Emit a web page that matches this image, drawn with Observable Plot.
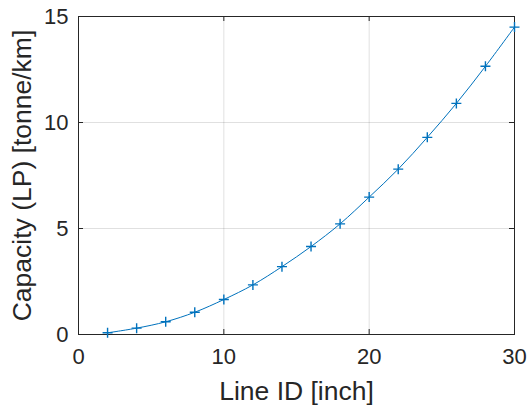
<!DOCTYPE html>
<html>
<head>
<meta charset="utf-8">
<script src="https://cdn.jsdelivr.net/npm/d3@7"></script>
<script src="https://cdn.jsdelivr.net/npm/@observablehq/plot@0.6"></script>
<style>
  html, body { margin: 0; padding: 0; background: #fff; }
</style>
</head>
<body>
<div id="chart"></div>
<script>
const lineId = [2, 4, 6, 8, 10, 12, 14, 16, 18, 20, 22, 24, 26, 28, 30];
const capacity = [0.08, 0.3, 0.6, 1.05, 1.65, 2.34, 3.2, 4.15, 5.22, 6.48, 7.8, 9.3, 10.9, 12.65, 14.5];
const xTicks = [0, 10, 20, 30];
const yTicks = [0, 5, 10, 15];

const data = lineId.map((x, i) => ({x, y: capacity[i]}));

const W = 527, H = 405;
const mL = 78, mR = 13, mT = 16, mB = 71;
const innerW = W - mL - mR, innerH = H - mT - mB;
const ink = "#262626";
const blue = "#0072BD";
const tickLen = 5;
const labelFont = "26.5px";

const plusSymbol = {
  draw(ctx, size) {
    const r = Math.sqrt(size / Math.PI);
    ctx.moveTo(-r, 0); ctx.lineTo(r, 0);
    ctx.moveTo(0, -r); ctx.lineTo(0, r);
  }
};

const chart = Plot.plot({
  width: W, height: H,
  marginLeft: mL, marginRight: mR, marginTop: mT, marginBottom: mB,
  style: {fontFamily: "'Liberation Sans', Arial, sans-serif", fontSize: "22px", color: ink, background: "#fff"},
  x: {domain: [0, 30]},
  y: {domain: [0, 15]},
  marks: [
    Plot.gridX(xTicks, {stroke: "#000", strokeOpacity: 0.12, strokeWidth: 1}),
    Plot.gridY(yTicks, {stroke: "#000", strokeOpacity: 0.12, strokeWidth: 1}),
    Plot.tickX(xTicks, {x: d => d, insetTop: innerH - tickLen, stroke: ink}),
    Plot.tickX(xTicks, {x: d => d, insetBottom: innerH - tickLen, stroke: ink}),
    Plot.tickY(yTicks, {y: d => d, insetRight: innerW - tickLen, stroke: ink}),
    Plot.tickY(yTicks, {y: d => d, insetLeft: innerW - tickLen, stroke: ink}),
    Plot.frame({stroke: ink, strokeWidth: 1}),
    Plot.axisX(xTicks, {tickSize: 0, tickPadding: 14, fill: ink, label: null}),
    Plot.axisY(yTicks, {tickSize: 0, tickPadding: 10, fill: ink, label: null}),
    Plot.axisX(xTicks, {tickSize: 0, text: () => "", label: "Line ID [inch]", labelAnchor: "center", labelArrow: "none", labelOffset: 65, fontSize: labelFont, fill: ink}),
    Plot.axisY(yTicks, {tickSize: 0, text: () => "", label: "Capacity (LP) [tonne/km]", labelAnchor: "center", labelArrow: "none", labelOffset: 66, fontSize: labelFont, fill: ink}),
    Plot.line(data, {x: "x", y: "y", stroke: blue, strokeWidth: 1, curve: "catmull-rom"}),
    Plot.dot(data, {x: "x", y: "y", symbol: plusSymbol, r: 5, stroke: blue, strokeWidth: 1.4, fill: "none"})
  ]
});
document.getElementById("chart").appendChild(chart);
</script>
</body>
</html>
